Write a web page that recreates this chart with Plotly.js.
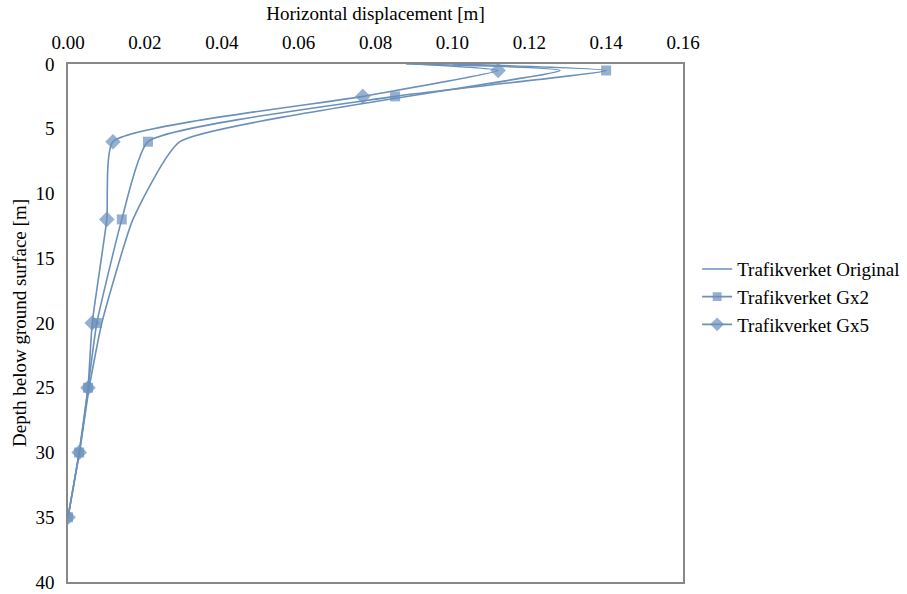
<!DOCTYPE html>
<html>
<head>
<meta charset="utf-8">
<script src="https://cdn.plot.ly/plotly-3.0.1.min.js"></script>
<style>html,body{margin:0;padding:0;background:#fff;}#chart{width:907px;height:594px;}</style>
</head>
<body>
<div id="chart"></div>
<script>
// Depth below ground surface [m]
var depthOriginal = [0, 0.5, 6, 12, 20, 25, 30, 35];
var dispOriginal  = [0.088, 0.128, 0.0291, 0.0169, 0.0088, 0.0055, 0.0030, 0.0];

var depthGx2 = [0, 0.5, 2.5, 6, 12, 20, 25, 30, 35];
var dispGx2  = [0.100, 0.140, 0.0851, 0.0208, 0.0140, 0.0075, 0.0052, 0.0029, 0.0];

var depthGx5 = [0, 0.5, 2.5, 6, 12, 20, 25, 30, 35];
var dispGx5  = [0.090, 0.1119, 0.0767, 0.0117, 0.0101, 0.0063, 0.0052, 0.0029, 0.0];

var seriesNames = ["Trafikverket Original", "Trafikverket Gx2", "Trafikverket Gx5"];
var xTickVals = [0, 0.02, 0.04, 0.06, 0.08, 0.10, 0.12, 0.14, 0.16];
var xTickText = ["0.00", "0.02", "0.04", "0.06", "0.08", "0.10", "0.12", "0.14", "0.16"];
var yTickVals = [0, 5, 10, 15, 20, 25, 30, 35, 40];

var col = '#6a90bb';
var fontFam = '"Liberation Serif", "Times New Roman", serif';

function sizes(n, s) { var a = []; for (var i = 0; i < n; i++) a.push(i === 0 ? 0 : s); return a; }

var traces = [
  {x: dispOriginal, y: depthOriginal, name: seriesNames[0], mode: 'lines',
   line: {color: col, width: 1.6, shape: 'spline', smoothing: 0.45}},
  {x: dispGx2, y: depthGx2, name: seriesNames[1], mode: 'lines+markers',
   line: {color: col, width: 1.6, shape: 'spline', smoothing: 0.45},
   marker: {symbol: 'square', size: sizes(depthGx2.length, 10), color: col, line: {width: 0}}},
  {x: dispGx5, y: depthGx5, name: seriesNames[2], mode: 'lines+markers',
   line: {color: col, width: 1.6, shape: 'spline', smoothing: 0.45},
   marker: {symbol: 'diamond', size: sizes(depthGx5.length, 12), color: col, line: {width: 0}}}
];

var layout = {
  width: 907, height: 594,
  margin: {l: 68, r: 224, t: 64, b: 12, autoexpand: false},
  paper_bgcolor: '#fff', plot_bgcolor: '#fff',
  font: {family: fontFam, size: 19, color: '#000'},
  showlegend: true,
  legend: {x: 1.023, xanchor: 'left', y: 0.55, yanchor: 'middle',
           font: {family: fontFam, size: 19, color: '#000'},
           bgcolor: 'rgba(0,0,0,0)', tracegroupgap: 0, itemwidth: 30},
  xaxis: {side: 'top', range: [0, 0.16], tickvals: xTickVals, ticktext: xTickText,
          showgrid: false, zeroline: false, showline: true, linecolor: '#888', linewidth: 1.5,
          mirror: true, ticks: '', ticklabelstandoff: 6,
          title: {text: 'Horizontal displacement [m]', font: {family: fontFam, size: 19}, standoff: 6}},
  yaxis: {range: [40, 0], tickvals: yTickVals, showgrid: false, zeroline: false,
          showline: true, linecolor: '#888', linewidth: 1.5, mirror: true, ticks: '',
          ticklabelstandoff: 8,
          title: {text: 'Depth below ground surface [m]', font: {family: fontFam, size: 19}, standoff: 4}}
};

Plotly.newPlot('chart', traces, layout, {displayModeBar: false, responsive: false});
</script>
</body>
</html>
